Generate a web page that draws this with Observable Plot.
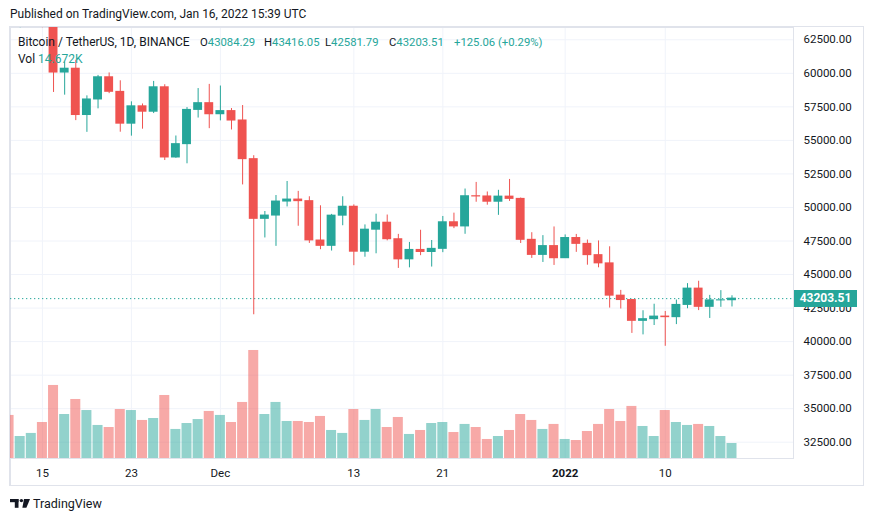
<!DOCTYPE html>
<html><head><meta charset="utf-8">
<script src="https://cdn.jsdelivr.net/npm/d3@7"></script>
<script src="https://cdn.jsdelivr.net/npm/@observablehq/plot@0.6"></script>
<style>
body{margin:0;background:#fff;font-family:Roboto,sans-serif;color:#131722}
#wrap{position:relative;width:873px;height:521px;overflow:hidden;background:#fff}
#wrap svg{position:absolute;left:0;top:0}
.t{position:absolute;white-space:nowrap;font-size:12px;line-height:12px;color:#131722}
.g{color:#26a69a}
#box{position:absolute;left:9px;top:26px;width:852px;height:458px;border:1px solid #e0e3eb;border-left-width:2px;box-sizing:content-box}
</style></head><body><div id="wrap"><div id="box"></div></div>
<script>
// ---- data ----
const dates = ["2021-11-12","2021-11-13","2021-11-14","2021-11-15","2021-11-16","2021-11-17","2021-11-18","2021-11-19","2021-11-20","2021-11-21","2021-11-22","2021-11-23","2021-11-24","2021-11-25","2021-11-26","2021-11-27","2021-11-28","2021-11-29","2021-11-30","2021-12-01","2021-12-02","2021-12-03","2021-12-04","2021-12-05","2021-12-06","2021-12-07","2021-12-08","2021-12-09","2021-12-10","2021-12-11","2021-12-12","2021-12-13","2021-12-14","2021-12-15","2021-12-16","2021-12-17","2021-12-18","2021-12-19","2021-12-20","2021-12-21","2021-12-22","2021-12-23","2021-12-24","2021-12-25","2021-12-26","2021-12-27","2021-12-28","2021-12-29","2021-12-30","2021-12-31","2022-01-01","2022-01-02","2022-01-03","2022-01-04","2022-01-05","2022-01-06","2022-01-07","2022-01-08","2022-01-09","2022-01-10","2022-01-11","2022-01-12","2022-01-13","2022-01-14","2022-01-15","2022-01-16"];
const opens  = [64863,64156,64470,65466,63557,60059,60345,56892,58052,59707,58617,56247,57541,57138,58960,53727,54721,57274,57776,56951,57185,56485,53602,49152,49397,50441,50589,50471,47536,47140,49389,50054,46702,48343,48864,47632,46133,46834,46681,46915,48897,48587,50838,50821,50428,50809,50640,47588,46464,47121,46217,47722,47287,46446,45833,43425,43098,41547,41672,41865,41822,42735,43950,42592,43072,43084.29];
const highs  = [65500,64990,65495,66401,63617,60840,60976,58320,59846,60029,59444,57875,57716,59398,59150,55329,57445,58865,59176,59053,57374,57600,53859,49699,50891,51936,51200,50797,50125,49485,50797,50192,48700,49500,49436,47995,47392,48300,47537,49328,49576,51375,51868,51156,51280,52089,50704,48119,47900,48548,47954,47990,47570,47505,47070,43817,43145,42300,42787,42248,43100,44322,44500,43447,43800,43416.05];
const lows   = [62333,63400,63576,63400,58574,58373,56474,55600,57353,58486,55610,55317,55837,57000,53500,53668,53256,56666,55875,56458,55777,51680,42000,47727,47100,50039,48600,47320,46852,46751,48638,45659,46290,46547,47511,45456,45500,46406,45558,46630,48422,48000,50390,50171,49412,50450,47313,46201,45900,45678,46208,46654,45696,45502,42500,42430,40610,40501,41200,39650,41268,42450,42311,41725,42555,42581.79];
const closes = [64156,64470,65466,63557,60059,60345,56892,58052,59707,58623,56247,57541,57139,58960,53727,54721,57274,57776,56950,57185,56481,53602,49152,49397,50442,50589,50471,47545,47140,49390,50054,46702,48344,48864,47633,46131,46834,46681,46914,48896,48588,50838,50821,50429,50809,50640,47588,46464,47120,46216,47722,47286,46446,45833,43426,43098,41547,41672,41864,41822,42735,43950,42592,43072,43078.45,43203.51];
const volumesK = [42.1,21.5,24.5,35.2,71.4,43.0,57.7,46.9,32.3,30.3,47.9,46.9,37.2,39.1,61.6,28.4,34.2,38.1,46.0,42.1,35.2,54.8,105.6,43.0,54.8,36.2,36.2,35.2,41.1,27.4,24.5,47.9,37.2,47.9,30.3,40.1,23.5,27.4,34.2,35.2,25.4,33.3,30.3,18.6,21.5,27.4,43.0,37.2,28.4,33.3,18.6,17.6,26.4,33.3,47.9,36.2,50.9,31.3,21.5,46.9,35.2,32.3,33.3,31.3,21.5,14.672];
const xTickDates  = ["2021-11-15","2021-11-23","2021-12-01","2021-12-13","2021-12-21","2022-01-01","2022-01-10"];
const xTickLabels = ["15","23","Dec","13","21","2022","10"];
const yTicks = [32500,35000,37500,40000,42500,45000,47500,50000,52500,55000,57500,60000,62500];
const lastClose = 43203.51;

// ---- layout ----
const teal = "#26a69a", red = "#ef5350";
const DAY = 864e5;
const W = 873, H = 521;
const margins = {marginTop: 27, marginRight: 80, marginBottom: 63, marginLeft: 10};
const toDate = s => new Date(s + "T00:00:00Z");
const rows = dates.map((d, i) => ({date: toDate(d), open: opens[i], high: highs[i], low: lows[i], close: closes[i], vol: volumesK[i]}));
const up = rows.filter(r => r.close >= r.open);
const down = rows.filter(r => r.close < r.open);
const anchor = toDate("2021-11-16").getTime();
const xDomain = [new Date(anchor - 3.87 * DAY), new Date(anchor + 66.53 * DAY)];
const xTicks = xTickDates.map(toDate);
const labelMap = new Map(xTicks.map((d, i) => [+d, xTickLabels[i]]));
const shift = k => d => new Date(+d.date + k * DAY);

const candles = (data, color) => [
  Plot.ruleX(data, {x: "date", y1: "low", y2: "high", stroke: color, strokeWidth: 1, clip: true}),
  Plot.rect(data, {x1: shift(-0.4), x2: shift(0.4), y1: "open", y2: "close", fill: color, insetTop: -0.5, insetBottom: -0.5, clip: true})
];

const main = Plot.plot({
  width: W, height: H, ...margins,
  style: {fontFamily: "Roboto, sans-serif", fontSize: "11.5px", color: "#131722", background: "transparent"},
  x: {type: "utc", domain: xDomain},
  y: {domain: [31285, 63417]},
  marks: [
    Plot.gridY(yTicks, {stroke: "#f0f3fa", strokeOpacity: 1}),
    Plot.gridX(xTicks, {stroke: "#f0f3fa", strokeOpacity: 1}),
    Plot.frame({stroke: "#e0e3eb"}),
    Plot.axisY(yTicks, {anchor: "right", tickSize: 0, tickPadding: 10, tickFormat: d => d.toFixed(2), label: null}),
    Plot.axisX(xTicks, {anchor: "bottom", tickSize: 0, tickPadding: 10, tickFormat: d => labelMap.get(+d), label: null}),
    Plot.ruleY([lastClose], {stroke: teal, strokeWidth: 1, strokeDasharray: "1.3,2.7", clip: true}),
    ...candles(up, teal),
    ...candles(down, red)
  ]
});

const vol = Plot.plot({
  width: W, height: H, ...margins,
  style: {background: "transparent"},
  x: {type: "utc", domain: xDomain, axis: null},
  y: {domain: [0, 421.4], axis: null},
  marks: [
    Plot.rectY(up, {x1: shift(-0.45), x2: shift(0.45), y: "vol", fill: teal, fillOpacity: 0.5, clip: true}),
    Plot.rectY(down, {x1: shift(-0.45), x2: shift(0.45), y: "vol", fill: red, fillOpacity: 0.5, clip: true})
  ]
});

main.querySelectorAll("text").forEach(t => { if (t.textContent === "2022") t.setAttribute("font-weight", "bold"); });

const wrap = document.getElementById("wrap");
wrap.appendChild(main);
wrap.appendChild(vol);

function addText(html, left, top, extra) {
  const d = document.createElement("div");
  d.className = "t";
  d.style.left = left + "px";
  d.style.top = top + "px";
  if (extra) Object.assign(d.style, extra);
  d.innerHTML = html;
  wrap.appendChild(d);
  return d;
}
addText("Published on TradingView.com, Jan 16, 2022 15:39 UTC", 10, 8);
addText("Bitcoin / TetherUS, 1D, BINANCE", 18, 36);
const fmt = v => v.toFixed(2);
const change = lastClose - closes[closes.length - 2];
const small = {fontSize: "11.3px"};
addText(`O<span class="g">${fmt(opens[opens.length-1])}</span>`, 200, 36.5, small);
addText(`H<span class="g">${fmt(highs[highs.length-1])}</span>`, 264, 36.5, small);
addText(`L<span class="g">${fmt(lows[lows.length-1])}</span>`, 325, 36.5, small);
addText(`C<span class="g">${fmt(lastClose)}</span>`, 389, 36.5, small);
addText(`<span class="g">+${fmt(change)} (+${(change / closes[closes.length-2] * 100).toFixed(2)}%)</span>`, 454, 36.5, small);
addText(`Vol <span class="g">${volumesK[volumesK.length-1].toFixed(3)}K</span>`, 18, 52.5);

// last price label on the price axis
const yPix = main.scale("y").apply(lastClose);
addText(lastClose.toFixed(2), 794, yPix - 8.5, {background: teal, color: "#fff", fontWeight: "bold", width: "63px", height: "17px", lineHeight: "17px", textAlign: "center"});

// footer
const logo = document.createElementNS("http://www.w3.org/2000/svg", "svg");
logo.setAttribute("width", "24"); logo.setAttribute("height", "12");
logo.style.cssText = "position:absolute;left:9px;top:497px";
logo.innerHTML = '<rect x="1" y="2" width="8.5" height="3.2" fill="#131722"/><rect x="5.8" y="2" width="3.7" height="8.8" fill="#131722"/><circle cx="12.4" cy="3.6" r="1.7" fill="#131722"/><polygon points="15,2 21,2 17.4,10.8 13.4,10.8" fill="#131722"/>';
wrap.appendChild(logo);
addText("TradingView", 33, 497, {fontSize: "12.5px", lineHeight: "13px"});
</script></body></html>
